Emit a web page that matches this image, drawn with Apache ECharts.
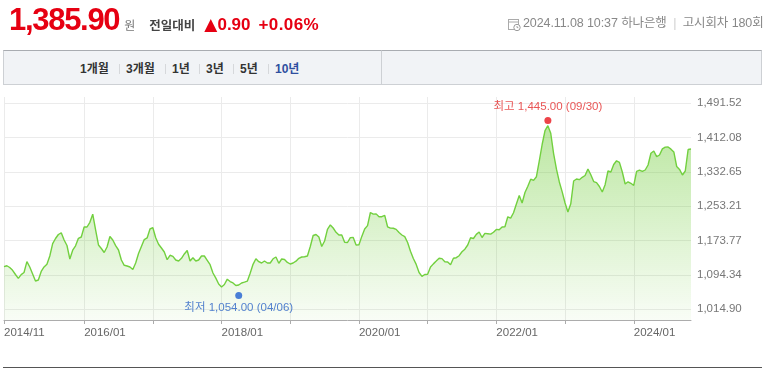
<!DOCTYPE html>
<html>
<head>
<meta charset="utf-8">
<script src="https://cdn.jsdelivr.net/npm/echarts@6/dist/echarts.min.js"></script>
<style>
  html, body { margin:0; padding:0; background:#fff; }
  body { width:773px; height:376px; position:relative; overflow:hidden;
         font-family:'Liberation Sans','Noto Sans CJK KR',sans-serif; }
  #chart { position:absolute; left:0; top:0; width:773px; height:376px; z-index:0; }
  .ov { position:absolute; z-index:1; white-space:nowrap; }
  .box { position:absolute; z-index:1; top:50px; height:33px; background:#f1f3f6;
         border:1px solid #cdd0d4; border-top-color:#a9acb1; box-sizing:content-box; }
  .tab { position:absolute; z-index:2; top:62px; line-height:14px; font-size:12px; font-weight:bold; color:#333; }
  .sep { position:absolute; z-index:2; top:64px; width:1px; height:10px; background:#d6d8db; }
</style>
</head>
<body>
<div id="chart"></div>

<div class="ov" style="left:9px; top:2px; display:flex; align-items:baseline;">
  <span style="font-size:31px; font-weight:bold; color:#e60012; letter-spacing:-1.3px;">1,385.90</span>
  <span style="font-size:12px; color:#777; margin-left:5px;">원</span>
  <span style="font-size:12.5px; font-weight:bold; color:#444; margin-left:14px;">전일대비</span>
  <span style="font-size:17px; color:#e60012; margin-left:9px; font-family:'DejaVu Sans',sans-serif;">▲</span>
  <span style="font-size:17px; font-weight:bold; color:#e60012;">0.90</span>
  <span style="font-size:17px; font-weight:bold; color:#e60012; margin-left:8px; letter-spacing:0.4px;">+0.06%</span>
</div>

<svg class="ov" style="left:508px; top:18px;" width="13" height="13" viewBox="0 0 13 13">
  <rect x="0.5" y="1.5" width="10" height="10" fill="none" stroke="#aaa"/>
  <line x1="0.5" y1="4" x2="10.5" y2="4" stroke="#aaa"/>
  <circle cx="9" cy="9.5" r="3.2" fill="#fff" stroke="#999"/>
  <path d="M9 8 V9.6 H10.3" fill="none" stroke="#999" stroke-width="0.9"/>
</svg>
<div class="ov" style="left:523px; top:16px; font-size:12.5px; line-height:14px; color:#888; letter-spacing:-0.1px;">
  2024.11.08 10:37 하나은행 <span style="color:#d0d0d0; margin:0 3px;">|</span> 고시회차 180회
</div>

<div class="box" style="left:3px; width:377px;"></div>
<div class="box" style="left:381px; width:379px;"></div>
<span class="tab" style="left:80px;">1개월</span>
<span class="sep" style="left:119px;"></span>
<span class="tab" style="left:126px;">3개월</span>
<span class="sep" style="left:165px;"></span>
<span class="tab" style="left:172px;">1년</span>
<span class="sep" style="left:199px;"></span>
<span class="tab" style="left:206px;">3년</span>
<span class="sep" style="left:233px;"></span>
<span class="tab" style="left:240px;">5년</span>
<span class="sep" style="left:268px;"></span>
<span class="tab" style="left:275px; color:#2f4fa0;">10년</span>

<div class="ov" style="left:3px; top:367px; width:759px; height:1px; background:#555;"></div>

<script>
// ---- data ----
// semi-monthly sample dates from 2014/11 to 2024/11
const startYear = 2014, startMonth = 11, sampleCount = 241;
const categories = [];
for (let k = 0; k < sampleCount; k++) {
  const m = startMonth - 1 + Math.floor(k / 2);
  const y = startYear + Math.floor(m / 12);
  const mo = (m % 12) + 1;
  categories.push(y + '/' + String(mo).padStart(2, '0') + '/' + (k % 2 ? '16' : '01'));
}

// USD/KRW (원)
const rates = [
  1113.5, 1115.6, 1111.6, 1105.1, 1095.4, 1086.6, 1095.0, 1100.1, 1125.3, 1112.8,
  1096.6, 1080.4, 1082.7, 1102.4, 1112.8, 1119.0, 1138.2, 1166.7, 1178.7, 1188.0,
  1191.9, 1175.3, 1162.5, 1131.3, 1151.7, 1161.8, 1179.2, 1182.2, 1205.3, 1205.3,
  1216.2, 1235.0, 1198.4, 1163.7, 1155.6, 1146.3, 1159.1, 1183.4, 1175.3, 1162.1,
  1152.1, 1129.0, 1116.7, 1115.1, 1112.8, 1107.0, 1122.0, 1144.0, 1160.2, 1176.2,
  1179.9, 1200.7, 1203.7, 1180.4, 1165.5, 1156.7, 1147.5, 1129.7, 1139.9, 1137.5,
  1129.0, 1126.7, 1132.9, 1142.9, 1151.0, 1126.7, 1134.3, 1126.7, 1129.0, 1138.2,
  1138.2, 1128.3, 1118.1, 1098.9, 1086.9, 1073.4, 1066.5, 1072.3, 1084.6, 1079.2,
  1075.8, 1070.0, 1071.1, 1075.8, 1077.6, 1079.9, 1098.4, 1119.0, 1131.8, 1125.0,
  1122.0, 1126.7, 1122.0, 1122.0, 1131.8, 1135.9, 1121.3, 1131.3, 1130.1, 1123.2,
  1119.7, 1122.0, 1126.2, 1132.9, 1135.9, 1136.6, 1138.2, 1160.2, 1185.7, 1188.0,
  1182.2, 1160.2, 1172.9, 1200.0, 1210.0, 1203.0, 1193.1, 1186.8, 1186.8, 1169.9,
  1169.5, 1180.8, 1181.0, 1163.7, 1164.4, 1183.6, 1200.7, 1208.4, 1238.9, 1235.0,
  1235.7, 1228.9, 1229.2, 1232.2, 1205.8, 1202.6, 1202.4, 1199.8, 1192.4, 1186.8,
  1183.1, 1169.5, 1149.3, 1132.5, 1118.8, 1100.1, 1091.0, 1095.4, 1095.9, 1112.8,
  1120.0, 1126.4, 1132.9, 1132.2, 1125.0, 1124.4, 1117.9, 1132.9, 1134.3, 1138.9,
  1148.0, 1154.0, 1163.7, 1180.4, 1178.7, 1188.2, 1193.8, 1181.0, 1190.5, 1189.8,
  1188.7, 1193.1, 1199.8, 1198.9, 1205.3, 1205.8, 1228.9, 1225.7, 1238.2, 1258.6,
  1278.2, 1260.9, 1285.2, 1299.5, 1316.0, 1313.2, 1321.7, 1358.1, 1396.2, 1428.4,
  1439.8, 1422.2, 1375.2, 1339.1, 1309.5, 1286.6, 1260.9, 1240.1, 1259.0, 1311.8,
  1316.4, 1314.8, 1320.3, 1324.5, 1339.6, 1326.1, 1310.4, 1308.1, 1299.1, 1286.3,
  1303.2, 1334.9, 1332.6, 1350.0, 1358.5, 1354.8, 1332.6, 1304.8, 1309.9, 1306.5,
  1301.4, 1334.0, 1336.8, 1333.8, 1337.2, 1348.8, 1375.9, 1381.2, 1368.0, 1371.9,
  1386.1, 1390.2, 1390.5, 1385.4, 1378.9, 1345.3, 1338.6, 1325.7, 1334.9, 1384.7,
  1385.9
];

// tick / label months on the x axis
const xTickMonths = ['2014/11', '2016/01', '2017/01', '2018/01', '2019/01', '2020/01', '2021/01', '2022/01', '2023/01', '2024/01'];
const xLabelMonths = ['2014/11', '2016/01', '2018/01', '2020/01', '2022/01', '2024/01'];
// y axis tick labels
const yTicks = [1014.90, 1094.34, 1173.77, 1253.21, 1332.65, 1412.08, 1491.52];

// high / low annotations
const extremeNames = ['최고', '최저'];
const extremeDates = ['2022/09/30', '2018/04/06'];
const extremeValues = [1445.00, 1054.00];

// ---- chart ----
const FONT = "'Liberation Sans','Noto Sans CJK KR',sans-serif";
const fmt = v => Number(v).toLocaleString('en-US', { minimumFractionDigits: 2, maximumFractionDigits: 2 });
const tickSet = new Set(xTickMonths.map(m => m + '/01'));
const labelSet = new Set(xLabelMonths.map(m => m + '/01'));
const isTick = (i, v) => tickSet.has(v);
const isLabel = (i, v) => labelSet.has(v);

function nearestIndex(dateStr) {
  const t = new Date(dateStr.replace(/\//g, '-')).getTime();
  let best = 0, bd = Infinity;
  categories.forEach((c, i) => {
    const d = Math.abs(new Date(c.replace(/\//g, '-')).getTime() - t);
    if (d < bd) { bd = d; best = i; }
  });
  return best;
}

const extremeColors = ['#e8141c', '#1f5fd1'];
const extremeData = extremeNames.map((n, k) => ({
  value: [nearestIndex(extremeDates[k]), extremeValues[k]],
  symbolOffset: [0, k === 0 ? -3 : 3],
  itemStyle: { color: extremeColors[k] },
  label: {
    show: true,
    position: k === 0 ? 'top' : 'bottom',
    distance: k === 0 ? 4 : 3,
    color: k === 0 ? '#e32a2a' : '#2a63c6',
    fontSize: 11.5,
    fontFamily: FONT,
    formatter: () => n + ' ' + fmt(extremeValues[k]) + ' (' + extremeDates[k].slice(5) + ')'
  }
}));

const chart = echarts.init(document.getElementById('chart'), null, { renderer: 'canvas' });
chart.setOption({
  animation: false,
  grid: { left: 4, right: 82, top: 97, bottom: 56, containLabel: false },
  xAxis: {
    type: 'category',
    data: categories,
    boundaryGap: false,
    axisLine: { show: true, lineStyle: { color: '#acacac', width: 1 } },
    axisTick: { show: true, length: 4, interval: isTick, lineStyle: { color: '#acacac' } },
    axisLabel: {
      interval: isLabel, formatter: v => v.slice(0, 7), align: 'left',
      margin: 7, color: '#666', fontSize: 11.5, fontFamily: FONT
    },
    splitLine: { show: true, interval: isTick, lineStyle: { color: '#ebebeb', width: 1 } }
  },
  yAxis: {
    type: 'value',
    position: 'right',
    min: 990.14,
    max: 1506.1,
    axisLine: { show: false },
    axisTick: { show: false, customValues: yTicks },
    axisLabel: { customValues: yTicks, formatter: v => fmt(v), margin: 6, color: '#777', fontSize: 11.5, fontFamily: FONT },
    splitLine: { show: true, lineStyle: { color: '#ebebeb', width: 1 } }
  },
  series: [
    {
      type: 'line',
      data: rates,
      symbol: 'none',
      smooth: false,
      lineStyle: { color: '#72d03f', width: 1.4 },
      areaStyle: {
        origin: 'start',
        color: new echarts.graphic.LinearGradient(0, 0, 0, 1, [
          { offset: 0, color: 'rgba(100,200,40,0.62)' },
          { offset: 1, color: 'rgba(100,200,40,0.06)' }
        ])
      },
      z: 2
    },
    {
      type: 'scatter',
      data: extremeData,
      symbol: 'circle',
      symbolSize: 7,
      z: 5
    }
  ]
});
</script>
</body>
</html>
